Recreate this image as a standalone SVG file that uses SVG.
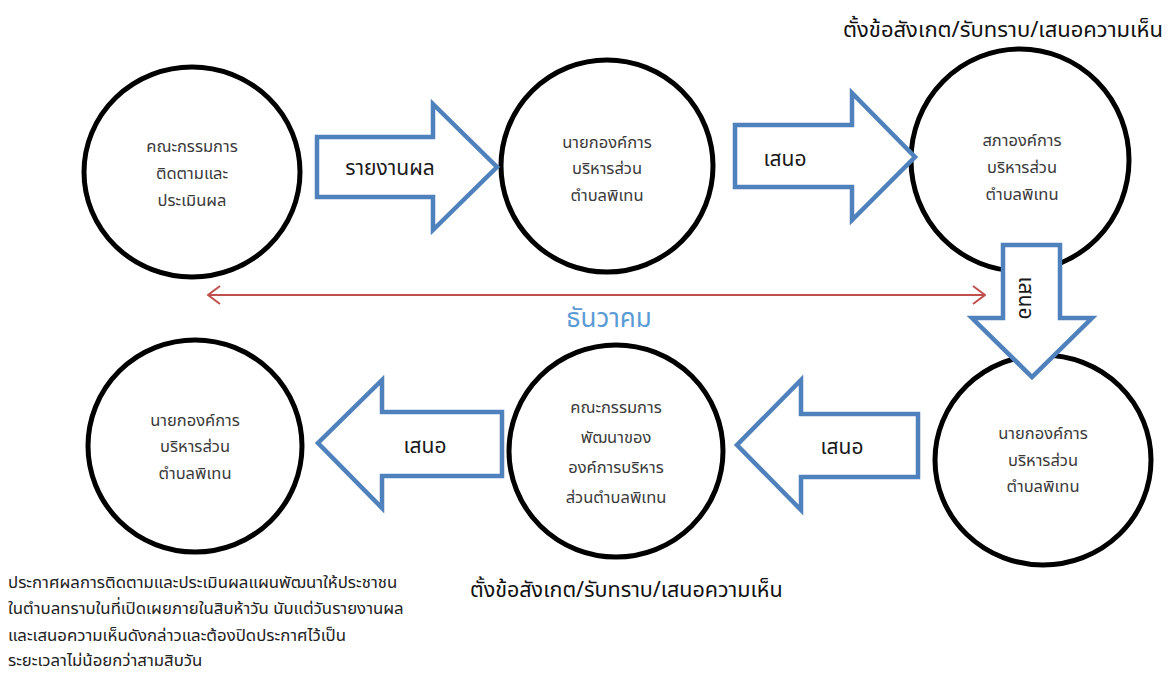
<svg xmlns="http://www.w3.org/2000/svg" width="1173" height="675" viewBox="0 0 1173 675">
<defs>
<style>
.c{fill:#fff;stroke:#000;stroke-width:5}
.ba{fill:#fff;stroke:#4F81BD;stroke-width:4.5;stroke-linejoin:miter}
.t{font-family:"Noto Sans Thai","Tahoma","Noto Sans","DejaVu Sans",sans-serif;font-size:16.5px;fill:#3a3a3a;text-anchor:middle}
.al{font-family:"Noto Sans Thai","Tahoma","Noto Sans","DejaVu Sans",sans-serif;font-size:21px;fill:#1a1a1a;text-anchor:middle}
.lbl{font-family:"Noto Sans Thai","Tahoma","Noto Sans","DejaVu Sans",sans-serif;font-size:22px;fill:#111}
.p{font-family:"Noto Sans Thai","Tahoma","Noto Sans","DejaVu Sans",sans-serif;font-size:16.8px;fill:#222}
.red{fill:none;stroke:#C0504D;stroke-width:2}
</style>
<marker id="oa" viewBox="0 0 14 20" refX="13" refY="10" markerWidth="14" markerHeight="20" markerUnits="userSpaceOnUse" orient="auto-start-reverse">
<path d="M1,1 L13,10 L1,19" fill="none" stroke="#C0504D" stroke-width="2"/>
</marker>
</defs>
<rect width="1173" height="675" fill="#fff"/>

<g id="node-committee-eval">
<ellipse class="c" cx="192" cy="172" rx="108" ry="105"/>
<text class="t" x="192" y="152">คณะกรรมการ</text>
<text class="t" x="192" y="179">ติดตามและ</text>
<text class="t" x="192" y="206">ประเมินผล</text>
</g>
<g id="node-mayor-1">
<ellipse class="c" cx="607" cy="166" rx="106" ry="106"/>
<text class="t" x="607" y="148">นายกองค์การ</text>
<text class="t" x="607" y="174">บริหารส่วน</text>
<text class="t" x="607" y="201">ตำบลพิเทน</text>
</g>
<g id="node-council">
<ellipse class="c" cx="1020" cy="160" rx="109" ry="111"/>
<text class="t" x="1022" y="146">สภาองค์การ</text>
<text class="t" x="1022" y="173">บริหารส่วน</text>
<text class="t" x="1022" y="200">ตำบลพิเทน</text>
</g>
<g id="node-mayor-2">
<ellipse class="c" cx="1043" cy="460" rx="108" ry="105"/>
<text class="t" x="1043" y="439">นายกองค์การ</text>
<text class="t" x="1043" y="466">บริหารส่วน</text>
<text class="t" x="1043" y="492">ตำบลพิเทน</text>
</g>
<g id="node-committee-dev">
<ellipse class="c" cx="616" cy="451" rx="107" ry="106"/>
<text class="t" x="616" y="413">คณะกรรมการ</text>
<text class="t" x="616" y="443">พัฒนาของ</text>
<text class="t" x="616" y="473">องค์การบริหาร</text>
<text class="t" x="616" y="503">ส่วนตำบลพิเทน</text>
</g>
<g id="node-mayor-3">
<ellipse class="c" cx="195" cy="446" rx="107" ry="106"/>
<text class="t" x="195" y="426">นายกองค์การ</text>
<text class="t" x="195" y="452">บริหารส่วน</text>
<text class="t" x="195" y="479">ตำบลพิเทน</text>
</g>

<g id="connectors">
<g id="arrow-report">
<polygon class="ba" points="317,137 433,137 433,104 497,167 433,230 433,197 317,197"/>
<text class="al" x="390" y="175">รายงานผล</text>
</g>
<g id="arrow-propose-1">
<polygon class="ba" points="735,125 852,125 852,93 915,157 852,220 852,187 735,187"/>
<text class="al" x="785" y="166">เสนอ</text>
</g>
<g id="arrow-propose-2">
<polygon class="ba" points="1003,245 1060,245 1060,318 1092,318 1032,377 972,318 1003,318"/>
<text class="al" transform="translate(1019,298) rotate(90)" x="0" y="0">เสนอ</text>
</g>
<g id="arrow-propose-3">
<polygon class="ba" points="918,414 801,414 801,380 737,445 801,510 801,477 918,477"/>
<text class="al" x="842" y="454">เสนอ</text>
</g>
<g id="arrow-propose-4">
<polygon class="ba" points="502,412 382,412 382,380 318,443 382,508 382,476 502,476"/>
<text class="al" x="425" y="453">เสนอ</text>
</g>
<g id="timeline">
<line class="red" x1="208" y1="295" x2="985" y2="295" marker-start="url(#oa)" marker-end="url(#oa)"/>
<text x="609" y="327" text-anchor="middle" font-family="Noto Sans Thai, Tahoma, Noto Sans, DejaVu Sans, sans-serif" font-size="26" fill="#5B9BD5">ธันวาคม</text>
</g>
</g>

<g id="labels">
<text class="lbl" x="1163" y="37" text-anchor="end">ตั้งข้อสังเกต/รับทราบ/เสนอความเห็น</text>
<text class="lbl" x="470" y="597" style="font-size:21.5px">ตั้งข้อสังเกต/รับทราบ/เสนอความเห็น</text>
<text class="p" x="8" y="588">ประกาศผลการติดตามและประเมินผลแผนพัฒนาให้ประชาชน</text>
<text class="p" x="8" y="614">ในตำบลทราบในที่เปิดเผยภายในสิบห้าวัน นับแต่วันรายงานผล</text>
<text class="p" x="8" y="641">และเสนอความเห็นดังกล่าวและต้องปิดประกาศไว้เป็น</text>
<text class="p" x="8" y="666">ระยะเวลาไม่น้อยกว่าสามสิบวัน</text>
</g>
</svg>
